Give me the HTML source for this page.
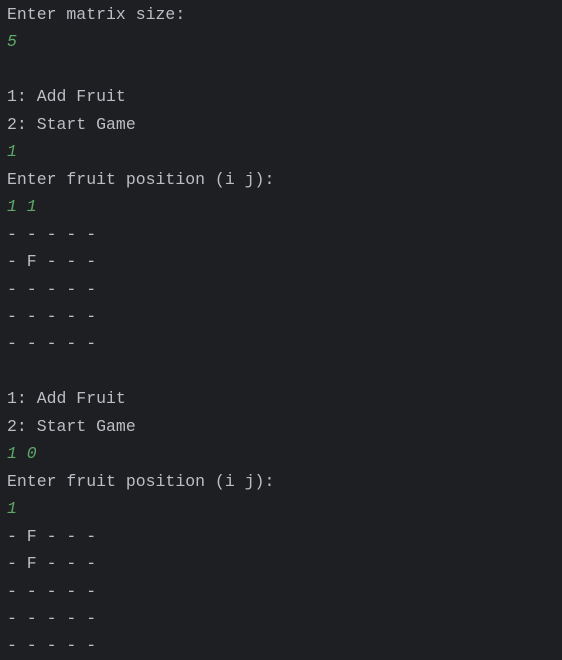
<!DOCTYPE html>
<html><head><meta charset="utf-8"><style>
html,body{margin:0;padding:0;background:#1e1f22;width:562px;height:660px;overflow:hidden}
pre{margin:0;padding:0;position:absolute;left:7px;top:1px;font-family:"Liberation Mono",monospace;font-size:16.5px;line-height:27.45px;color:#bcbec4;white-space:pre}
.g{color:#5fa86a;font-style:italic}
</style></head><body>
<pre>Enter matrix size:
<span class="g">5</span>

1: Add Fruit
2: Start Game
<span class="g">1</span>
Enter fruit position (i j):
<span class="g">1 1</span>
- - - - -
- F - - -
- - - - -
- - - - -
- - - - -

1: Add Fruit
2: Start Game
<span class="g">1 0</span>
Enter fruit position (i j):
<span class="g">1</span>
- F - - -
- F - - -
- - - - -
- - - - -
- - - - -</pre>
</body></html>
